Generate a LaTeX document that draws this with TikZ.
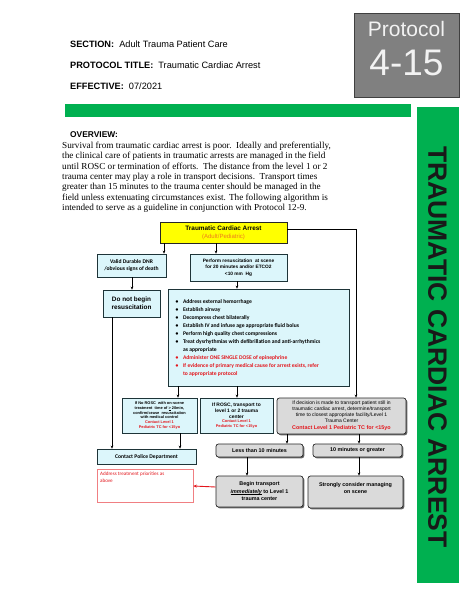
\documentclass[tikz,border=0pt]{standalone}
\usepackage{fontspec}
\setmainfont{Liberation Sans}
\newfontfamily\tnr{Liberation Serif}
\newfontfamily\calfont{Carlito}
\usetikzlibrary{shadows,arrows.meta}
\definecolor{grn}{HTML}{00B050}
\definecolor{protog}{HTML}{808080}
\definecolor{cyanf}{HTML}{DCF6FB}
\definecolor{bdr}{HTML}{1E3438}
\definecolor{grayf}{HTML}{DADADA}
\definecolor{rd}{HTML}{E3161C}
\definecolor{orng}{HTML}{EE7B1E}
\definecolor{ylw}{HTML}{FFFF00}
\newcommand\fsz[2]{\fontsize{#1}{#2}\selectfont}
\newcommand\cbx[2]{\parbox{#1}{\centering #2\par}}
\newcommand\bl[1]{\par\hangindent=7.5pt\hangafter=1\noindent\makebox[7.5pt][l]{\textbullet}#1}
\newsavebox\ulbox
\newcommand\myul[1]{\leavevmode\sbox\ulbox{#1}\rlap{\usebox\ulbox}\rule[-0.9pt]{\wd\ulbox}{0.35pt}}
\tikzset{
  shad/.style={drop shadow={shadow xshift=1.3pt,shadow yshift=-1.3pt,fill=black!60,opacity=1}},
  cyanbox/.style={draw=bdr,fill=cyanf,line width=0.7pt,shad,inner sep=0pt},
  graybox/.style={draw=black!85,fill=grayf,line width=0.7pt,rounded corners=2.5pt,shad,inner sep=0pt},
  arr/.style={draw=black,line width=0.6pt,-{Stealth[length=3pt,width=2.6pt]}},
  hdr/.style={anchor=base west,inner sep=0pt,font=\fsz{9.2}{11}},
}
\begin{document}
\begin{tikzpicture}[x=1pt,y=-1pt]
\useasboundingbox[fill=white] (0,0) rectangle (474,613);
% protocol box
\node[draw=black!75,fill=protog,line width=1pt,minimum width=105pt,minimum height=84pt,inner sep=0pt] (proto) at (406.5,55) {};
\node[anchor=base,inner sep=0pt,text=black!5,font=\fsz{21}{24}] (ptxt) at (406.5,36.5) {Protocol};
\node[anchor=base,inner sep=0pt,text=black!5,font=\fsz{37}{40}] (pnum) at (406.5,75) {4-15};
% header
\node[hdr] (sec) at (70,47.5) {\textbf{SECTION:}\ \ Adult Trauma Patient Care};
\node[hdr] (ttl) at (70,68) {\textbf{PROTOCOL TITLE:}\ \ Traumatic Cardiac Arrest};
\node[hdr] (eff) at (70,89) {\textbf{EFFECTIVE:}\ \ 07/2021};
% green bars
\fill[grn] (65,104) rectangle (411,117);
\fill[grn] (417,107) rectangle (459,583);
\node[rotate=-90,inner sep=0pt,font=\fsz{26.5}{28}\bfseries,text=black!90] (vt) at (437.5,347) {TRAUMATIC CARDIAC ARREST};
% overview
\node[anchor=base west,inner sep=0pt,font=\fsz{8.4}{10}\bfseries] (ov) at (70,137.5) {OVERVIEW:};
\node[anchor=north west,inner sep=0pt,align=left,font=\tnr\fsz{9.2}{10.3}] (par) at (62,142) {Survival from traumatic cardiac arrest is poor.\ \ Ideally and preferentially,\\
the clinical care of patients in traumatic arrests are managed in the field\\
until ROSC or termination of efforts.\ \ The distance from the level 1 or 2\\
trauma center may play a role in transport decisions.\ \ Transport times\\
greater than 15 minutes to the trauma center should be managed in the\\
field unless extenuating circumstances exist. The following algorithm is\\
intended to serve as a guideline in conjunction with Protocol 12-9.};
% flowchart nodes
\node[draw=black!85,fill=ylw,line width=0.7pt,shad,minimum width=127pt,minimum height=21pt,inner sep=0pt] (ya) at (223.5,232.5)
  {\cbx{120pt}{\fsz{6.4}{7.6}\bfseries Traumatic Cardiac Arrest\\ \fsz{6}{7.6}\mdseries\color{orng}(Adult/Pediatric)}};
\node[cyanbox,minimum width=69pt,minimum height=23pt] (dnr) at (131.5,265.5)
  {\cbx{66pt}{\calfont\bfseries\fsz{5.6}{7.6}Valid Durable DNR\\/obvious signs of death}};
\node[cyanbox,minimum width=97pt,minimum height=27pt] (perf) at (238.5,267.5)
  {\cbx{94pt}{\bfseries\fsz{4.8}{6.6}Perform resuscitation\ \ at scene\\for 20 minutes and/or ETCO2\\<10 mm\ \ Hg}};
\node[cyanbox,minimum width=57pt,minimum height=27pt] (dnb) at (131.5,303.5)
  {\cbx{55pt}{\bfseries\fsz{6.4}{8}Do not begin\\resuscitation}};
\node[cyanbox,minimum width=181pt,minimum height=97pt] (bul) at (258.5,337.5)
  {\parbox{166pt}{\calfont\bfseries\fsz{5.6}{8}\raggedright
  \bl{Address external hemorrhage}
  \bl{Establish airway}
  \bl{Decompress chest bilaterally}
  \bl{Establish IV and infuse age appropriate fluid bolus}
  \bl{Perform high quality chest compressions}
  \bl{Treat dysrhythmias with defibrillation and anti-arrhythmics\newline as appropriate}
  \color{rd}
  \bl{Administer ONE SINGLE DOSE of epinephrine}
  \bl{If evidence of primary medical cause for arrest exists, refer\newline to appropriate protocol}\par}};
\node[cyanbox,minimum width=75pt,minimum height=35pt] (nor) at (159.5,415.5)
  {\cbx{72pt}{\bfseries\fsz{3.9}{4.8}If No ROSC\ \ with on-scene\\treatment\ \ time of \myul{>} 20min,\\confirm/cease\ \ resuscitation\\with medical control\\
   \color{rd}Contact Level 1\\Pediatric TC for <15yo}};
\node[cyanbox,minimum width=73pt,minimum height=35pt] (ros) at (236.5,415.5)
  {\cbx{70pt}{\bfseries\fsz{4.9}{6.2}If ROSC, transport to\\level 1 or 2 trauma\\center\\[-0.5pt]
   \fsz{3.9}{4.8}\color{rd}Contact Level 1\\Pediatric TC for <15yo}};
\node[graybox,minimum width=129pt,minimum height=36pt] (dec) at (341.5,416)
  {\cbx{126pt}{\fsz{5.0}{6.0}If decision is made to transport patient still in\\traumatic cardiac arrest, determine/transport\\time to closest appropriate facility/Level 1\\Trauma Center\\
   \bfseries\fsz{5.4}{6.6}\color{rd}Contact Level 1 Pediatric TC for <15yo}};
\node[cyanbox,minimum width=99pt,minimum height=15pt] (pol) at (146.5,456.5)
  {\calfont\bfseries\fsz{5.6}{7}Contact Police Department};
\node[draw=rd!55,fill=white,line width=0.6pt,minimum width=96pt,minimum height=33pt,inner sep=0pt] (adr) at (145,485.5) {};
\node[anchor=north west,inner sep=0pt,align=left,text=rd,font=\calfont\fsz{5.1}{7.2}] (adrt) at (100,471.5) {Address treatment priorities as\\above};
\node[graybox,minimum width=87pt,minimum height=13pt] (lt) at (259.5,450.5)
  {\bfseries\fsz{5.4}{6.5}Less than 10 minutes};
\node[graybox,minimum width=89pt,minimum height=13pt] (ge) at (357.5,450.5)
  {\bfseries\fsz{5.4}{6.5}10 minutes or greater};
\node[graybox,minimum width=87pt,minimum height=31pt] (beg) at (259.5,491.5)
  {\cbx{84pt}{\bfseries\fsz{5.4}{7.5}Begin transport\\\myul{\itshape immediately} to Level 1\\trauma center}};
\node[graybox,minimum width=95pt,minimum height=32pt] (str) at (355.5,492)
  {\cbx{92pt}{\bfseries\fsz{5.4}{7}Strongly consider managing\\on scene\\[7pt]}};
% columns
\coordinate (c164) at (164,0);
\coordinate (c216) at (216,0);
\coordinate (c356) at (356,0);
\coordinate (c132) at (132,0);
\coordinate (c237) at (237,0);
\coordinate (c112) at (112,0);
\coordinate (c178) at (178,0);
\coordinate (c180) at (180,0);
\coordinate (c287) at (287,0);
\coordinate (c359) at (359,0);
\coordinate (c247) at (247,0);
\coordinate (c229) at (0,229);
\coordinate (c487) at (0,487);
\coordinate (c486) at (0,486);
% connectors
\draw[arr] (ya.south -| c164) -- (dnr.north -| c164);
\draw[arr] (ya.south -| c216) -- (perf.north -| c216);
\draw[arr] (ya.east |- c229) -- (c356 |- c229) -- (dec.north -| c356);
\draw[arr] (dnr.south -| c132) -- (dnb.north -| c132);
\draw[arr] (perf.south -| c237) -- (bul.north -| c237);
\draw[arr] (dnb.south -| c112) -- (pol.north -| c112);
\draw[arr] (bul.south -| c178) -- (nor.north -| c178);
\draw[arr] (bul.south -| c237) -- (ros.north -| c237);
\draw[arr] (nor.south -| c180) -- (pol.north -| c180);
\draw[arr] (dec.south -| c287) -- (lt.north -| c287);
\draw[arr] (dec.south -| c359) -- (ge.north -| c359);
\draw[arr] (lt.south -| c247) -- (beg.north -| c247);
\draw[arr] (ge.south -| c359) -- (str.north -| c359);
\draw[rd,line width=0.9pt,-{Stealth[length=3.5pt,width=3pt]}] (beg.west |- c487) -- (adr.east |- c486);
\end{tikzpicture}
\end{document}
